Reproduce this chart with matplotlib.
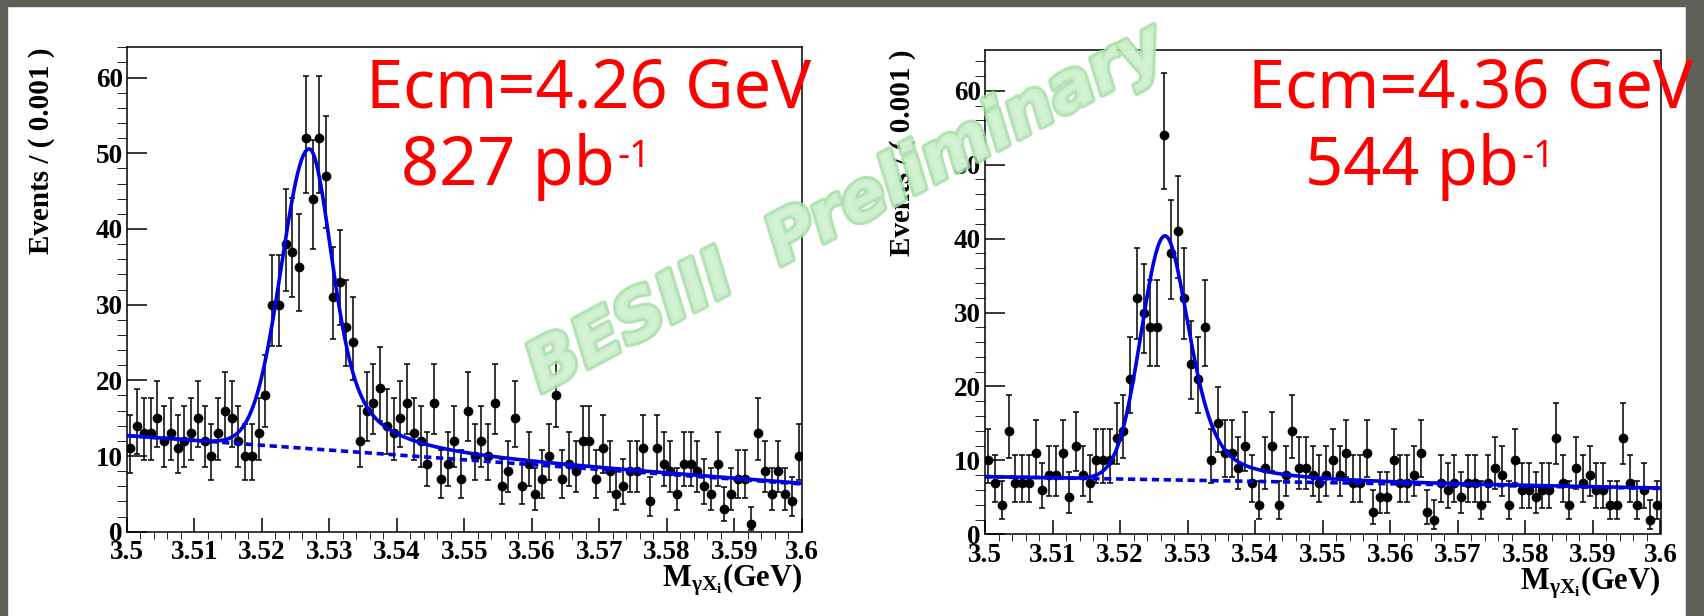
import numpy as np
import matplotlib
matplotlib.use('Agg')
import matplotlib.pyplot as plt
import matplotlib.patheffects as pe

# M(gamma X_i) spectra, 100 bins of 1 MeV between 3.5 and 3.6 GeV
m_lo, m_hi, n_bins = 3.5, 3.6, 100

counts_426 = [11, 14, 13, 13, 15, 12, 13, 11, 12, 13, 15, 12, 10, 13, 16, 15, 12, 10, 10, 13,
              18, 30, 30, 38, 37, 35, 52, 44, 52, 47, 31, 33, 27, 25, 12, 16, 17, 19, 14, 13,
              15, 17, 13, 12, 9, 17, 7, 9, 12, 7, 16, 10, 12, 10, 17, 6, 8, 15, 6, 9,
              5, 7, 10, 18, 7, 9, 8, 12, 12, 7, 11, 8, 5, 6, 8, 8, 11, 4, 11, 9,
              8, 5, 9, 9, 8, 6, 5, 9, 3, 5, 7, 7, 1, 13, 8, 5, 8, 5, 4, 10]

counts_436 = [10, 7, 4, 14, 7, 7, 7, 11, 6, 8, 8, 11, 5, 12, 8, 7, 10, 10, 10, 13,
              14, 21, 32, 30, 28, 28, 54, 38, 41, 32, 23, 21, 28, 10, 15, 11, 11, 9, 12, 7,
              4, 9, 12, 4, 8, 14, 9, 9, 8, 7, 8, 10, 8, 11, 7, 7, 11, 3, 5, 5,
              10, 7, 7, 8, 11, 3, 2, 7, 6, 7, 5, 7, 7, 4, 7, 9, 8, 4, 10, 6,
              6, 5, 6, 6, 13, 7, 4, 9, 7, 8, 6, 6, 4, 4, 13, 7, 4, 6, 2, 4]

# fit results: peak mean, amplitude, left sigma, right sigma, tail fraction, tail width
sig_426 = [3.5270, 39.6, 0.0041, 0.0032, 0.55, 0.0050]
sig_436 = [3.52665, 33.0, 0.0035, 0.0036, 0.50, 0.0045]
# linear background at 3.5 and 3.6 GeV
bkg_426 = [12.7, 6.3]
bkg_436 = [7.8, 6.2]

labels_ecm = ['Ecm=4.26 GeV', 'Ecm=4.36 GeV']
labels_lumi = ['827 pb', '544 pb']

matplotlib.rc('mathtext', fontset='custom', rm='Liberation Serif:bold',
              it='Liberation Serif:bold', bf='Liberation Serif:bold')

serif = dict(family='Liberation Serif', weight='bold')


def background(x, b):
    return b[0] + (b[1] - b[0]) * (x - m_lo) / (m_hi - m_lo)


def peak(x, p):
    mean, amp, sl, sr, frac, gam = p
    dx = x - mean
    left = np.exp(-0.5 * (dx / sl) ** 2)
    right = (1 - frac) * np.exp(-0.5 * (dx / sr) ** 2) + frac / (1 + (dx / gam) ** 2)
    return amp * np.where(dx < 0, left, right)


def poisson_err(n):
    n = np.asarray(n, dtype=float)
    up = np.sqrt(n + 0.75) + 1
    low = n - n * (1 - 1 / (9 * n) - 1 / (3 * np.sqrt(n))) ** 3
    return low, up


W, H = 1704, 616
fig = plt.figure(figsize=(W / 100, H / 100), dpi=100)
fig.patch.set_facecolor('white')

# slide border
border = '#5e5f56'
for (x0, y0, w, h) in [(0, 0, W, 6), (0, 0, 7, H), (1686, 0, 18, H)]:
    fig.patches.append(plt.Rectangle((x0 / W, 1 - (y0 + h) / H), w / W, h / H,
                                     transform=fig.transFigure, color=border, zorder=0))

axes_px = [(127, 47.3, 802, 531.7), (985, 50.0, 1660.5, 534.3)]
ylabel_x = [42, 903]
centers = m_lo + (np.arange(n_bins) + 0.5) * (m_hi - m_lo) / n_bins
xs = np.linspace(m_lo, m_hi, 1000)

for k, (counts, sig, bkg) in enumerate([(counts_426, sig_426, bkg_426),
                                        (counts_436, sig_436, bkg_436)]):
    x0, y0, x1, y1 = axes_px[k]
    ax = fig.add_axes([x0 / W, 1 - y1 / H, (x1 - x0) / W, (y1 - y0) / H])
    lo, up = poisson_err(counts)
    ax.errorbar(centers, counts, yerr=[lo, up], fmt='o', color='black', ms=6,
                elinewidth=1.1, capsize=2.2, capthick=1.1, zorder=3)
    ax.plot(xs, background(xs, bkg), color='#0000e0', lw=2.6, ls=(0, (2.0, 1.3)), zorder=4)
    ax.plot(xs, background(xs, bkg) + peak(xs, sig), color='#0000e0', lw=2.6, zorder=5)

    ax.set_xlim(m_lo, m_hi)
    ax.set_ylim(0, 1.05 * max(np.asarray(counts) + up))
    ax.set_xticks(np.arange(3.5, 3.6001, 0.01))
    ax.set_xticklabels(['3.5'] + ['%.2f' % v for v in np.arange(3.51, 3.595, 0.01)] + ['3.6'])
    ax.set_xticks(np.arange(3.5, 3.6001, 0.002), minor=True)
    ax.set_yticks(np.arange(0, 61, 10))
    ax.set_yticks(np.arange(0, 65, 2), minor=True)
    ax.tick_params(axis='both', direction='in', top=False, right=False, width=1.1)
    ax.tick_params(axis='x', which='major', length=10, pad=6)
    ax.tick_params(axis='x', which='minor', length=5)
    ax.tick_params(axis='y', which='major', length=14.5, pad=3)
    ax.tick_params(axis='y', which='minor', length=7)
    for lab in ax.get_xticklabels() + ax.get_yticklabels():
        lab.set_fontproperties(matplotlib.font_manager.FontProperties(size=19.5, **serif))
    for s in ax.spines.values():
        s.set_linewidth(1.1)

    fig.text(ylabel_x[k] / W, 1 - y0 / H, 'Events / ( 0.001 )', rotation=90,
             ha='center', va='top', fontsize=21, **serif)
    ax.text(1.0, -0.062, r'$\mathregular{M_{\gamma X_{i}}}$(GeV)', transform=ax.transAxes,
            ha='right', va='top', fontsize=22, **serif)

# beam energy and luminosity
ecm_x = [366, 1248]
lumi_x = [401, 1305]
fig.canvas.draw()
rend = fig.canvas.get_renderer()
for k in range(2):
    fig.text(ecm_x[k] / W, 1 - 107 / H, labels_ecm[k], color='#ff0000', fontsize=48,
             family='Noto Sans', ha='left', va='baseline', zorder=10)
    t = fig.text(lumi_x[k] / W, 1 - 184.7 / H, labels_lumi[k], color='#ff0000', fontsize=48,
                 family='Noto Sans', ha='left', va='baseline', zorder=10)
    bb = t.get_window_extent(rend)
    fig.text((bb.x1 + 3) / W, 1 - 167 / H, '-1', color='#ff0000', fontsize=27,
             family='Noto Sans', ha='left', va='baseline', zorder=10)

fig.text(846 / W, 1 - 210 / H, 'BESIII  Preliminary', rotation=28, ha='center', va='center',
         fontsize=49, family='DejaVu Sans', weight='bold', style='italic',
         color='#d3f2d3', alpha=0.85, zorder=20,
         path_effects=[pe.Stroke(linewidth=4.5, foreground='#a6dea6'), pe.Normal()])

plt.savefig('out.png', dpi=100)
